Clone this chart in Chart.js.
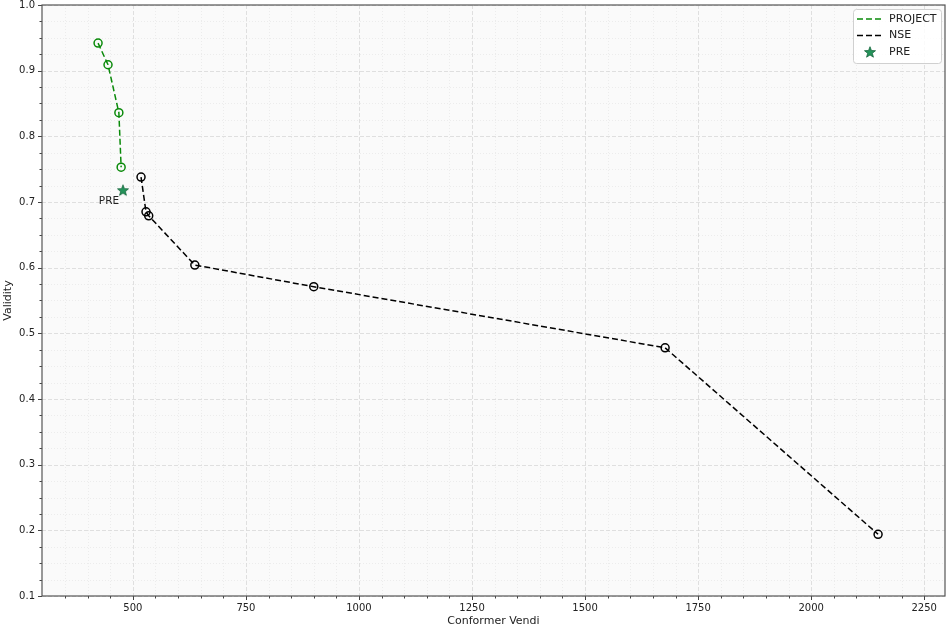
<!DOCTYPE html>
<html>
<head>
<meta charset="utf-8">
<script src="https://cdn.jsdelivr.net/npm/chart.js@4.4.1/dist/chart.umd.min.js"></script>
<style>
  html, body { margin: 0; padding: 0; background: #fff; }
  #wrap { width: 947px; height: 632px; }
</style>
</head>
<body>
<div id="wrap"><canvas id="paretoChart"></canvas></div>
<script>
// Values
const projectVendi = [423, 445, 469, 474];
const projectValidity = [0.942, 0.909, 0.836, 0.753];
const nseVendi = [518, 529, 535, 637, 900, 1677, 2148];
const nseValidity = [0.738, 0.685, 0.679, 0.604, 0.571, 0.478, 0.194];
const preVendi = [478];
const preValidity = [0.718];
const xTicks = [500, 750, 1000, 1250, 1500, 1750, 2000, 2250];
const yTicks = [0.1, 0.2, 0.3, 0.4, 0.5, 0.6, 0.7, 0.8, 0.9, 1.0];

const FONT = 'DejaVu Sans';
const GREEN = '#0a8a0a';
const STAR = '#24935a';
const DASH = [6, 3];

function toPoints(xs, ys) {
    return xs.map((x, i) => ({ x: x, y: ys[i] }));
}

function drawStar(ctx, cx, cy, r) {
    ctx.beginPath();
    for (let i = 0; i < 10; i++) {
        const rad = i % 2 === 0 ? r : r * 0.42;
        const a = -Math.PI / 2 + i * Math.PI / 5;
        const px = cx + Math.cos(a) * rad, py = cy + Math.sin(a) * rad;
        if (i === 0) ctx.moveTo(px, py); else ctx.lineTo(px, py);
    }
    ctx.closePath();
    ctx.fillStyle = STAR;
    ctx.fill();
    ctx.lineWidth = 0.8;
    ctx.strokeStyle = '#17663c';
    ctx.stroke();
}

// star marker image
const starImg = document.createElement('canvas');
starImg.width = 14; starImg.height = 14;
drawStar(starImg.getContext('2d'), 7, 7.5, 5.8);

// background, grid, frame and tick marks (matplotlib-like)
const gridPlugin = {
    id: 'gridPlugin',
    beforeDraw(chart) {
        const { ctx, chartArea: a, scales: { x, y } } = chart;
        ctx.save();
        ctx.fillStyle = '#fafafa';
        ctx.fillRect(a.left, a.top, a.right - a.left, a.bottom - a.top);

        // minor grid
        ctx.strokeStyle = '#e9e9e9';
        ctx.lineWidth = 0.8;
        ctx.setLineDash([1, 2]);
        for (let v = 350; v < x.max; v += 50) {
            if (v % 250 === 0) continue;
            const px = Math.round(x.getPixelForValue(v)) + 0.5;
            ctx.beginPath(); ctx.moveTo(px, a.top); ctx.lineTo(px, a.bottom); ctx.stroke();
        }
        for (let k = 4; k < 40; k++) {
            if (k % 4 === 0) continue;
            const py = Math.round(y.getPixelForValue(k * 0.025)) + 0.5;
            ctx.beginPath(); ctx.moveTo(a.left, py); ctx.lineTo(a.right, py); ctx.stroke();
        }

        // major grid
        ctx.strokeStyle = '#d8d8d8';
        ctx.setLineDash([4, 2]);
        xTicks.forEach(v => {
            const px = Math.round(x.getPixelForValue(v)) + 0.5;
            ctx.beginPath(); ctx.moveTo(px, a.top); ctx.lineTo(px, a.bottom); ctx.stroke();
        });
        yTicks.forEach(v => {
            const py = Math.round(y.getPixelForValue(v)) + 0.5;
            ctx.beginPath(); ctx.moveTo(a.left, py); ctx.lineTo(a.right, py); ctx.stroke();
        });
        ctx.setLineDash([]);

        // tick marks
        ctx.strokeStyle = '#444';
        ctx.lineWidth = 1;
        for (let v = 350; v < x.max; v += 50) {
            const len = v % 250 === 0 ? 4 : 2.5;
            const px = Math.round(x.getPixelForValue(v)) + 0.5;
            ctx.beginPath(); ctx.moveTo(px, a.bottom); ctx.lineTo(px, a.bottom + len); ctx.stroke();
        }
        for (let k = 4; k <= 40; k++) {
            const len = k % 4 === 0 ? 4 : 2.5;
            const py = Math.round(y.getPixelForValue(k * 0.025)) + 0.5;
            ctx.beginPath(); ctx.moveTo(a.left, py); ctx.lineTo(a.left - len, py); ctx.stroke();
        }

        // frame
        ctx.strokeStyle = '#555';
        ctx.lineWidth = 1.2;
        ctx.strokeRect(a.left, a.top, a.right - a.left, a.bottom - a.top);
        ctx.restore();
    },
    afterDatasetsDraw(chart) {
        // "PRE" annotation under the star
        const { ctx } = chart;
        const meta = chart.getDatasetMeta(2);
        const pt = meta.data[0];
        ctx.save();
        ctx.font = '10.5px "' + FONT + '"';
        ctx.fillStyle = '#222';
        ctx.textAlign = 'center';
        ctx.textBaseline = 'middle';
        ctx.fillText('PRE', pt.x - 14, pt.y + 11);
        ctx.restore();
    },
    afterDraw(chart) {
        // legend box in the upper right
        const { ctx, chartArea: a } = chart;
        const bx = a.right - 92, by = a.top + 4, bw = 88, bh = 54;
        ctx.save();
        ctx.beginPath();
        ctx.roundRect(bx + 0.5, by + 0.5, bw, bh, 3);
        ctx.fillStyle = 'rgba(255,255,255,0.85)';
        ctx.fill();
        ctx.strokeStyle = '#d0d0d0';
        ctx.lineWidth = 1;
        ctx.stroke();

        const rows = [
            { label: 'PROJECT', color: GREEN, type: 'line' },
            { label: 'NSE', color: '#000', type: 'line' },
            { label: 'PRE', type: 'star' }
        ];
        ctx.font = '11px "' + FONT + '"';
        ctx.textBaseline = 'middle';
        rows.forEach((r, i) => {
            const cy = by + 10 + i * 16.5;
            if (r.type === 'line') {
                ctx.strokeStyle = r.color;
                ctx.lineWidth = 1.6;
                ctx.setLineDash(DASH);
                ctx.beginPath(); ctx.moveTo(bx + 4, cy); ctx.lineTo(bx + 30, cy); ctx.stroke();
                ctx.setLineDash([]);
            } else {
                drawStar(ctx, bx + 17, cy + 0.5, 5.8);
            }
            ctx.fillStyle = '#222';
            ctx.textAlign = 'left';
            ctx.fillText(r.label, bx + 36, cy);
        });
        ctx.restore();
    }
};

document.addEventListener('DOMContentLoaded', function() {
    const data = {
        datasets: [{
            label: 'PROJECT',
            data: toPoints(projectVendi, projectValidity),
            showLine: true,
            borderColor: GREEN,
            borderWidth: 1.5,
            borderDash: DASH,
            pointRadius: 4,
            pointBorderWidth: 1.5,
            pointBorderColor: GREEN,
            pointBackgroundColor: 'rgba(0,0,0,0)'
        }, {
            label: 'NSE',
            data: toPoints(nseVendi, nseValidity),
            showLine: true,
            borderColor: '#000',
            borderWidth: 1.5,
            borderDash: DASH,
            pointRadius: 4,
            pointBorderWidth: 1.5,
            pointBorderColor: '#000',
            pointBackgroundColor: 'rgba(0,0,0,0)'
        }, {
            label: 'PRE',
            data: toPoints(preVendi, preValidity),
            showLine: false,
            pointStyle: starImg,
            pointRadius: 6
        }]
    };

    const config = {
        type: 'scatter',
        data: data,
        options: {
            responsive: true,
            maintainAspectRatio: false,
            animation: false,
            layout: { autoPadding: false, padding: { top: 5, right: 2, left: 0, bottom: 0 } },
            plugins: {
                legend: { display: false },
                tooltip: { enabled: false }
            },
            scales: {
                x: {
                    type: 'linear',
                    min: 299,
                    max: 2296,
                    afterBuildTicks: s => { s.ticks = xTicks.map(v => ({ value: v })); },
                    afterFit: s => { s.height = 36; s.paddingLeft = 0; s.paddingRight = 0; },
                    grid: { display: false, drawTicks: false },
                    border: { display: false },
                    ticks: {
                        padding: 6,
                        color: '#222',
                        font: { family: FONT, size: 10 },
                        maxRotation: 0,
                        callback: v => String(v)
                    },
                    title: {
                        display: true,
                        text: 'Conformer Vendi',
                        color: '#222',
                        font: { family: FONT, size: 11 },
                        padding: { top: 0, bottom: 4 }
                    }
                },
                y: {
                    type: 'linear',
                    min: 0.1,
                    max: 1.0,
                    afterBuildTicks: s => { s.ticks = yTicks.map(v => ({ value: v })); },
                    afterFit: s => { s.width = 42; s.paddingTop = 0; s.paddingBottom = 0; },
                    grid: { display: false, drawTicks: false },
                    border: { display: false },
                    ticks: {
                        padding: 7,
                        color: '#222',
                        font: { family: FONT, size: 10 },
                        callback: v => Number(v).toFixed(1)
                    },
                    title: {
                        display: true,
                        text: 'Validity',
                        color: '#222',
                        font: { family: FONT, size: 11 },
                        padding: { top: 2, bottom: 2 }
                    }
                }
            }
        },
        plugins: [gridPlugin]
    };

    new Chart(document.getElementById('paretoChart'), config);
});
</script>
</body>
</html>
